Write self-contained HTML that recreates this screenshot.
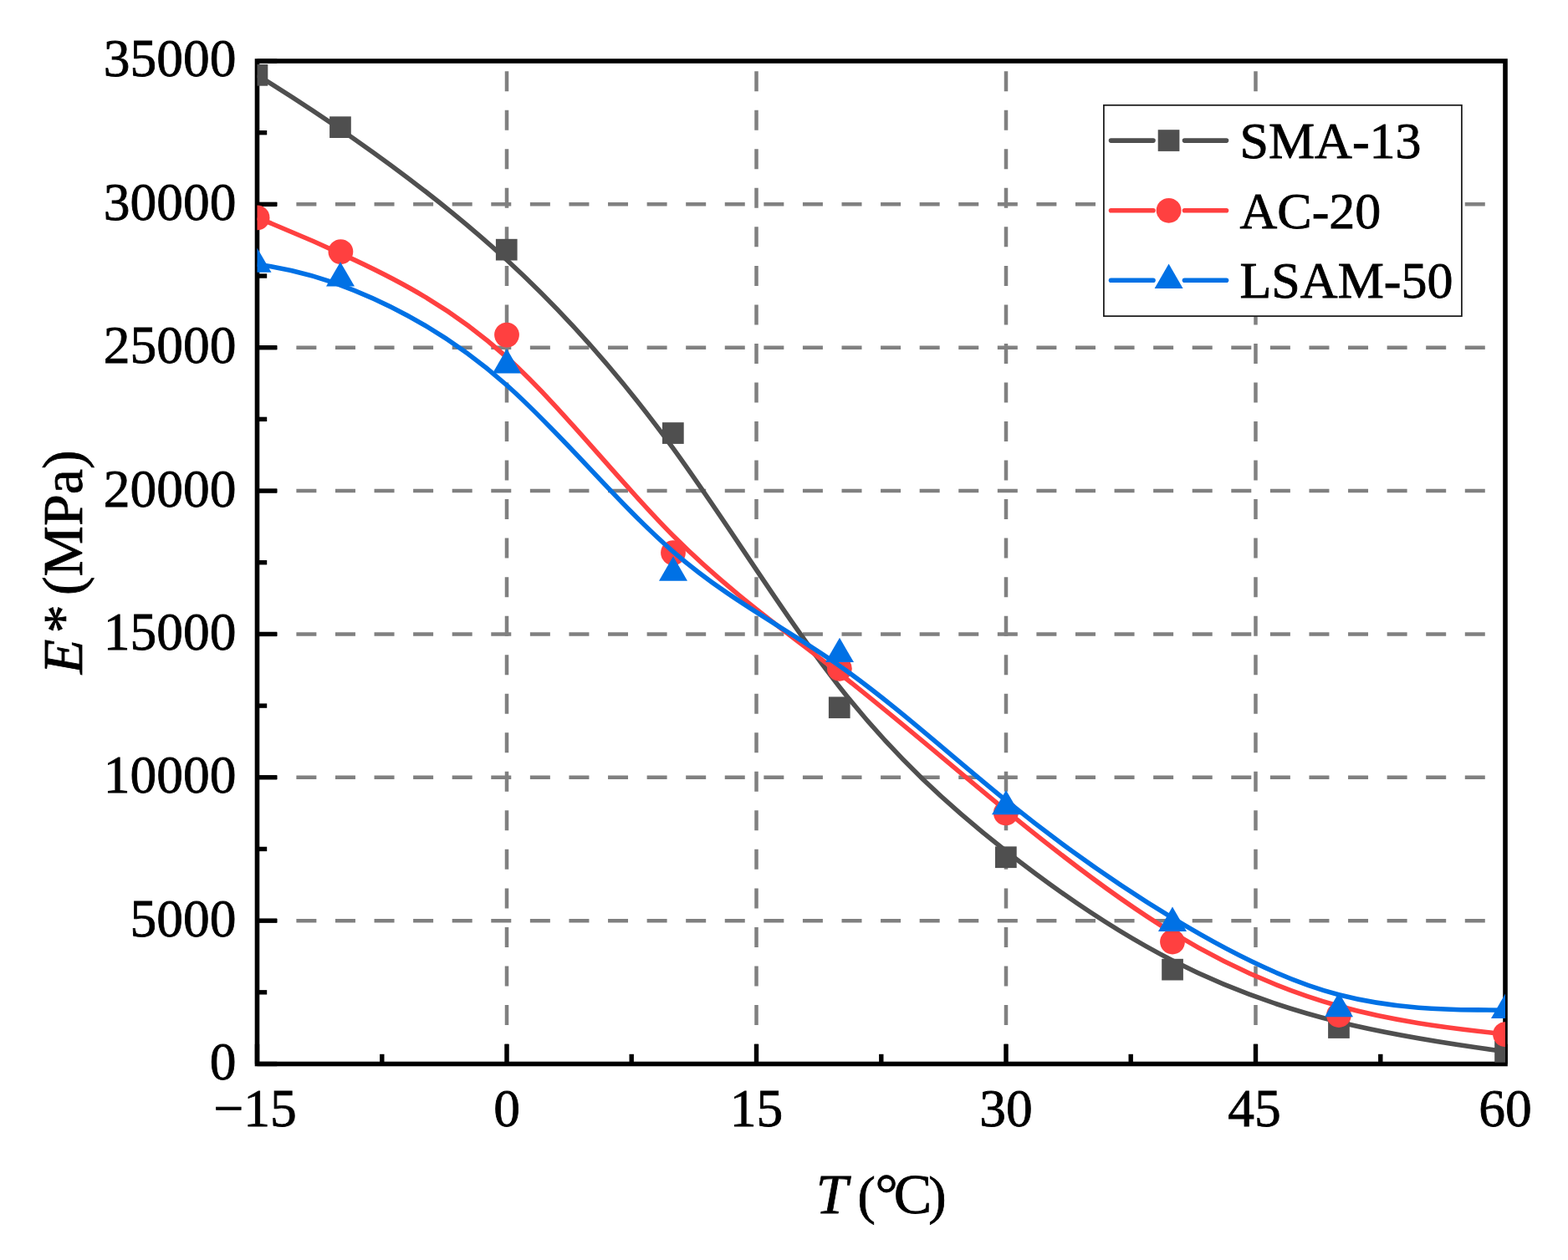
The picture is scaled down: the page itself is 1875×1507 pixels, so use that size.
<!DOCTYPE html><html><head><meta charset="utf-8"><title>E* vs T</title><style>html,body{margin:0;padding:0;background:#fff;}svg{display:block;}text{font-family:"Liberation Serif","Times New Roman",serif;fill:#000;stroke:#000;stroke-width:0.8px;}</style></head><body>
<svg width="1875" height="1507" viewBox="0 0 1875 1507">
<rect width="1875" height="1507" fill="#fff"/>
<defs><clipPath id="pc"><rect x="307.5" y="73.0" width="1492.5" height="1199.5"/></clipPath></defs>
<g stroke="#808080" stroke-width="4.5" stroke-dasharray="24 22.53" fill="none"><line x1="606.0" y1="1272.5" x2="606.0" y2="73.0"/><line x1="904.5" y1="1272.5" x2="904.5" y2="73.0"/><line x1="1203.0" y1="1272.5" x2="1203.0" y2="73.0"/><line x1="1501.5" y1="1272.5" x2="1501.5" y2="73.0"/></g>
<g stroke="#808080" stroke-width="4.5" stroke-dasharray="24 22.58" stroke-dashoffset="-0.3" fill="none"><line x1="307.5" y1="1101.14" x2="1800.0" y2="1101.14"/><line x1="307.5" y1="929.79" x2="1800.0" y2="929.79"/><line x1="307.5" y1="758.43" x2="1800.0" y2="758.43"/><line x1="307.5" y1="587.07" x2="1800.0" y2="587.07"/><line x1="307.5" y1="415.71" x2="1800.0" y2="415.71"/><line x1="307.5" y1="244.36" x2="1800.0" y2="244.36"/></g>
<g stroke="#000" stroke-width="5.4" fill="none"><line x1="307.5" y1="1272.5" x2="307.5" y2="1248.8"/><line x1="606.0" y1="1272.5" x2="606.0" y2="1248.8"/><line x1="904.5" y1="1272.5" x2="904.5" y2="1248.8"/><line x1="1203.0" y1="1272.5" x2="1203.0" y2="1248.8"/><line x1="1501.5" y1="1272.5" x2="1501.5" y2="1248.8"/><line x1="1800.0" y1="1272.5" x2="1800.0" y2="1248.8"/><line x1="456.8" y1="1272.5" x2="456.8" y2="1260.8"/><line x1="755.2" y1="1272.5" x2="755.2" y2="1260.8"/><line x1="1053.8" y1="1272.5" x2="1053.8" y2="1260.8"/><line x1="1352.2" y1="1272.5" x2="1352.2" y2="1260.8"/><line x1="1650.8" y1="1272.5" x2="1650.8" y2="1260.8"/><line x1="307.5" y1="1272.50" x2="331.2" y2="1272.50"/><line x1="307.5" y1="1101.14" x2="331.2" y2="1101.14"/><line x1="307.5" y1="929.79" x2="331.2" y2="929.79"/><line x1="307.5" y1="758.43" x2="331.2" y2="758.43"/><line x1="307.5" y1="587.07" x2="331.2" y2="587.07"/><line x1="307.5" y1="415.71" x2="331.2" y2="415.71"/><line x1="307.5" y1="244.36" x2="331.2" y2="244.36"/><line x1="307.5" y1="73.00" x2="331.2" y2="73.00"/><line x1="307.5" y1="1186.82" x2="319.2" y2="1186.82"/><line x1="307.5" y1="1015.46" x2="319.2" y2="1015.46"/><line x1="307.5" y1="844.11" x2="319.2" y2="844.11"/><line x1="307.5" y1="672.75" x2="319.2" y2="672.75"/><line x1="307.5" y1="501.39" x2="319.2" y2="501.39"/><line x1="307.5" y1="330.04" x2="319.2" y2="330.04"/><line x1="307.5" y1="158.68" x2="319.2" y2="158.68"/></g>
<rect x="307.5" y="73.0" width="1492.5" height="1199.5" fill="none" stroke="#000" stroke-width="5.6"/>
<g clip-path="url(#pc)">
<path d="M307.50,89.80 C307.50,89.80 307.50,89.80 324.08,100.20 C340.67,110.60 373.83,131.40 423.55,166.20 C473.27,201.00 539.53,249.80 605.85,310.78 C672.17,371.77 738.53,444.93 804.87,536.22 C871.20,627.50 937.50,736.90 1003.82,821.42 C1070.13,905.93 1136.47,965.57 1202.83,1017.78 C1269.20,1070.00 1335.60,1114.80 1401.95,1148.77 C1468.30,1182.73 1534.60,1205.87 1600.93,1222.23 C1667.27,1238.60 1733.63,1248.20 1766.82,1253.00 C1800.00,1257.80 1800.00,1257.80 1800.00,1257.80" fill="none" stroke="#4f4f4f" stroke-width="5.6" stroke-linejoin="round"/>
<g fill="#4f4f4f"><rect x="294.6" y="77.0" width="25.7" height="25.7"/><rect x="394.1" y="139.3" width="25.7" height="25.7"/><rect x="592.9" y="285.8" width="25.7" height="25.7"/><rect x="792.0" y="505.2" width="25.7" height="25.7"/><rect x="990.9" y="833.4" width="25.7" height="25.7"/><rect x="1190.0" y="1012.4" width="25.7" height="25.7"/><rect x="1389.2" y="1146.8" width="25.7" height="25.7"/><rect x="1588.1" y="1216.2" width="25.7" height="25.7"/><rect x="1787.2" y="1245.0" width="25.7" height="25.7"/></g>
<path d="M307.60,260.40 C307.60,260.40 307.60,260.40 324.23,267.18 C340.87,273.97 374.13,287.53 423.87,310.90 C473.60,334.27 539.80,367.43 606.07,427.43 C672.33,487.43 738.67,574.27 804.98,640.80 C871.30,707.33 937.60,753.57 1003.90,805.45 C1070.20,857.33 1136.50,914.87 1202.85,969.32 C1269.20,1023.77 1335.60,1075.13 1401.97,1115.40 C1468.33,1155.67 1534.67,1184.83 1601.00,1203.27 C1667.33,1221.70 1733.67,1229.40 1766.83,1233.25 C1800.00,1237.10 1800.00,1237.10 1800.00,1237.10" fill="none" stroke="#ff4040" stroke-width="5.6" stroke-linejoin="round"/>
<g fill="#ff4040"><circle cx="307.6" cy="260.4" r="14.9"/><circle cx="407.4" cy="301.1" r="14.9"/><circle cx="606.0" cy="400.6" r="14.9"/><circle cx="805.0" cy="661.1" r="14.9"/><circle cx="1003.9" cy="799.8" r="14.9"/><circle cx="1202.8" cy="972.4" r="14.9"/><circle cx="1402.0" cy="1126.5" r="14.9"/><circle cx="1601.0" cy="1214.0" r="14.9"/><circle cx="1800.0" cy="1237.1" r="14.9"/></g>
<path d="M307.50,316.00 C307.50,316.00 307.50,316.00 324.08,318.80 C340.67,321.60 373.83,327.20 423.58,347.32 C473.33,367.43 539.67,402.07 606.00,460.75 C672.33,519.43 738.67,602.17 805.00,659.77 C871.33,717.37 937.67,749.83 1004.00,796.43 C1070.33,843.03 1136.67,903.77 1203.00,957.42 C1269.33,1011.07 1335.67,1057.63 1402.00,1097.97 C1468.33,1138.30 1534.67,1172.40 1601.00,1189.73 C1667.33,1207.07 1733.67,1207.63 1766.83,1207.92 C1800.00,1208.20 1800.00,1208.20 1800.00,1208.20" fill="none" stroke="#0071e5" stroke-width="5.6" stroke-linejoin="round"/>
<g fill="#0071e5"><path d="M307.5,296.4L324.5,325.8L290.5,325.8Z"/><path d="M407.0,313.2L424.0,342.6L390.0,342.6Z"/><path d="M606.0,417.1L623.0,446.5L589.0,446.5Z"/><path d="M805.0,665.3L822.0,694.7L788.0,694.7Z"/><path d="M1004.0,762.7L1021.0,792.1L987.0,792.1Z"/><path d="M1203.0,944.9L1220.0,974.3L1186.0,974.3Z"/><path d="M1402.0,1084.6L1419.0,1114.0L1385.0,1114.0Z"/><path d="M1601.0,1186.9L1618.0,1216.3L1584.0,1216.3Z"/><path d="M1800.0,1188.6L1817.0,1218.0L1783.0,1218.0Z"/></g>
</g>
<text x="282.4" y="1290.9" font-size="63.5" text-anchor="end">0</text>
<text x="282.4" y="1119.5" font-size="63.5" text-anchor="end">5000</text>
<text x="282.4" y="948.2" font-size="63.5" text-anchor="end">10000</text>
<text x="282.4" y="776.8" font-size="63.5" text-anchor="end">15000</text>
<text x="282.4" y="605.5" font-size="63.5" text-anchor="end">20000</text>
<text x="282.4" y="434.1" font-size="63.5" text-anchor="end">25000</text>
<text x="282.4" y="262.8" font-size="63.5" text-anchor="end">30000</text>
<text x="282.4" y="91.4" font-size="63.5" text-anchor="end">35000</text>
<text x="305.2" y="1346.6" font-size="63.5" text-anchor="middle">−15</text>
<text x="606.2" y="1346.6" font-size="63.5" text-anchor="middle">0</text>
<text x="904.5" y="1346.6" font-size="63.5" text-anchor="middle">15</text>
<text x="1203.1" y="1346.6" font-size="63.5" text-anchor="middle">30</text>
<text x="1500.0" y="1346.6" font-size="63.5" text-anchor="middle">45</text>
<text x="1800.1" y="1346.6" font-size="63.5" text-anchor="middle">60</text>
<text y="1450.7" font-size="68"><tspan x="975.7" font-style="italic">T</tspan><tspan x="1025.4" font-size="64">(</tspan><tspan x="1046.4">°</tspan><tspan x="1068.7">C</tspan><tspan x="1110.2" font-size="64">)</tspan></text>
<text transform="translate(97.8,807) rotate(-90)" font-size="68"><tspan x="0.8" font-style="italic">E</tspan><tspan x="49.7">*</tspan><tspan x="94.9">(MPa)</tspan></text>
<rect x="1319.9" y="125.8" width="428" height="252.3" fill="#fff" stroke="#151515" stroke-width="1.7"/>
<line x1="1328.5" y1="168.1" x2="1379" y2="168.1" stroke="#4f4f4f" stroke-width="5.6" stroke-linecap="round"/>
<line x1="1416.5" y1="168.1" x2="1466.5" y2="168.1" stroke="#4f4f4f" stroke-width="5.6" stroke-linecap="round"/>
<rect x="1384.7" y="155.2" width="25.7" height="25.7" fill="#4f4f4f"/>
<text x="1482.5" y="188.9" font-size="62">SMA-13</text>
<line x1="1328.5" y1="251.8" x2="1379" y2="251.8" stroke="#ff4040" stroke-width="5.6" stroke-linecap="round"/>
<line x1="1416.5" y1="251.8" x2="1466.5" y2="251.8" stroke="#ff4040" stroke-width="5.6" stroke-linecap="round"/>
<circle cx="1397.6" cy="251.8" r="14.9" fill="#ff4040"/>
<text x="1482.5" y="272.6" font-size="62">AC-20</text>
<line x1="1328.5" y1="335.2" x2="1379" y2="335.2" stroke="#0071e5" stroke-width="5.6" stroke-linecap="round"/>
<line x1="1416.5" y1="335.2" x2="1466.5" y2="335.2" stroke="#0071e5" stroke-width="5.6" stroke-linecap="round"/>
<path d="M1397.6,315.6L1414.6,345.0L1380.6,345.0Z" fill="#0071e5"/>
<text x="1482.5" y="356.0" font-size="62">LSAM-50</text>
</svg></body></html>
